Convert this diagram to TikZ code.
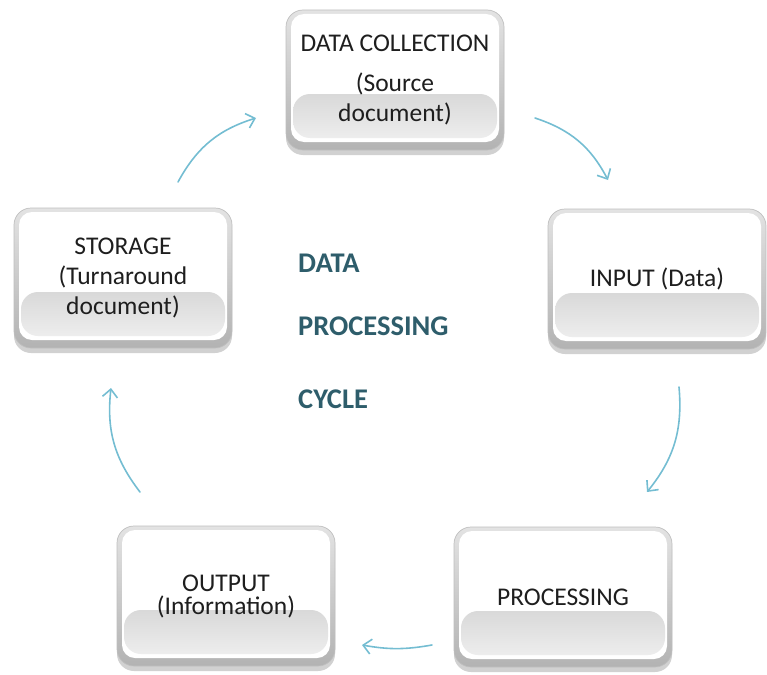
\documentclass[tikz,border=0pt]{standalone}
\usepackage{fontspec}
\setmainfont{Carlito}
\usetikzlibrary{arrows.meta,shadows,calc}
\definecolor{cyclink}{HTML}{74BDD2}
\definecolor{titleteal}{HTML}{2E5D6B}
\definecolor{cardtext}{HTML}{1E1E1E}
\begin{document}
\begin{tikzpicture}[x=1pt,y=-1pt,
  card/.style={rectangle, rounded corners=17pt, minimum width=218pt, minimum height=140pt,
    inner sep=0pt, draw=gray!50, line width=0.7pt,
    top color=gray!22, bottom color=gray!60,
    drop shadow={shadow xshift=0pt, shadow yshift=-5pt, opacity=0.45, fill=gray!80},
    path picture={
      \coordinate (pnw) at (path picture bounding box.north west);
      \coordinate (pse) at (path picture bounding box.south east);
      % white face of the bevel
      \fill[white, rounded corners=13pt] ([xshift=5pt,yshift=-4pt]pnw) rectangle ([xshift=-5pt,yshift=8pt]pse);
      % grey lower band of the face
      \shade[top color=gray!30, bottom color=gray!14]
        ($([xshift=7pt]pnw)!0.60!([xshift=7pt]pnw |- pse)$) rectangle ([xshift=-7pt,yshift=12pt]pse);
    },
    font=\fontsize{25.5}{30}\selectfont, text=cardtext, align=center},
  cyclearrow/.style={draw=cyclink, line width=1.6pt, line cap=round,
    -{Straight Barb[length=8pt,width=15pt,line width=1.6pt]}, bend left=22},
  cycletitle/.style={font=\bfseries\fontsize{28.5}{34}\selectfont, text=titleteal, anchor=west, inner sep=0pt}]
\useasboundingbox (0,0) rectangle (767,674);

% the five stages of the cycle
\node[card] (collect) at (395,80)  {DATA COLLECTION\\[10pt](Source\\document)};
\node[card] (input)   at (657,279) {INPUT (Data)};
\node[card] (process) at (563,597) {PROCESSING};
\node[card] (output)  at (226,596) {OUTPUT\\[-7pt](Information)};
\node[card] (storage) at (123,278) {STORAGE\\(Turnaround\\document)};

% title in the middle
\node[cycletitle] (t1) at (298,263) {DATA};
\node[cycletitle] (t2) at (298,326) {PROCESSING};
\node[cycletitle] (t3) at (298,399) {CYCLE};

% arrow end points between the stages
\coordinate (a1s) at (178,182); \coordinate (a1e) at (256,118);
\coordinate (a2s) at (535,118); \coordinate (a2e) at (608,180);
\coordinate (a3s) at (679,387); \coordinate (a3e) at (647,492);
\coordinate (a4s) at (432,645); \coordinate (a4e) at (362,645);
\coordinate (a5s) at (140,492); \coordinate (a5e) at (111,388);

\draw[cyclearrow] (a1s) to (a1e);
\draw[cyclearrow] (a2s) to (a2e);
\draw[cyclearrow] (a3s) to (a3e);
\draw[cyclearrow, bend left=10] (a4s) to (a4e);
\draw[cyclearrow] (a5s) to (a5e);
\end{tikzpicture}
\end{document}
